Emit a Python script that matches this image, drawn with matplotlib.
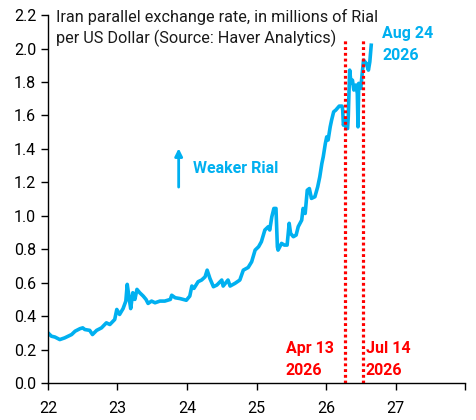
import matplotlib
matplotlib.use("Agg")
import matplotlib.pyplot as plt
from datetime import date

plt.rcParams['font.family'] = ['Roboto', 'DejaVu Sans']

# decimal years (22 = 2022) and rate in millions of Rial per USD
years = [22.00, 22.05, 22.10, 22.17, 22.24, 22.34, 22.39, 22.46, 22.50, 22.53,
         22.60, 22.64, 22.70, 22.77, 22.84, 22.89, 22.96, 22.99, 23.03, 23.08,
         23.12, 23.14, 23.17, 23.19, 23.22, 23.25, 23.28, 23.32, 23.37, 23.41,
         23.44, 23.49, 23.54, 23.61, 23.68, 23.76, 23.78, 23.83, 23.90, 23.99,
         24.04, 24.07, 24.10, 24.16, 24.21, 24.26, 24.29, 24.33, 24.38, 24.43,
         24.50, 24.52, 24.59, 24.62, 24.69, 24.76, 24.81, 24.88, 24.93, 24.98,
         25.03, 25.07, 25.12, 25.17, 25.19, 25.22, 25.25, 25.28, 25.30, 25.31,
         25.36, 25.40, 25.44, 25.47, 25.49, 25.53, 25.57, 25.60, 25.65, 25.67,
         25.70, 25.73, 25.76, 25.79, 25.84, 25.88, 25.91, 25.94, 25.96, 25.99,
         26.01, 26.03, 26.06, 26.08, 26.11, 26.14, 26.19, 26.23, 26.24, 26.25,
         26.27, 26.29, 26.31, 26.32, 26.34, 26.36, 26.38, 26.40, 26.43, 26.45,
         26.46, 26.47, 26.50, 26.52, 26.54, 26.56, 26.58, 26.61, 26.63, 26.65]
rate = [0.300, 0.280, 0.275, 0.260, 0.270, 0.290, 0.310, 0.325, 0.330, 0.320,
        0.315, 0.290, 0.315, 0.330, 0.360, 0.350, 0.380, 0.440, 0.410, 0.445,
        0.490, 0.590, 0.500, 0.445, 0.540, 0.500, 0.560, 0.540, 0.520, 0.500,
        0.476, 0.490, 0.480, 0.490, 0.490, 0.500, 0.525, 0.510, 0.505, 0.495,
        0.520, 0.580, 0.566, 0.606, 0.616, 0.635, 0.675, 0.625, 0.576, 0.586,
        0.616, 0.580, 0.616, 0.580, 0.596, 0.616, 0.675, 0.691, 0.725, 0.795,
        0.815, 0.845, 0.915, 0.935, 0.915, 0.994, 1.044, 1.044, 0.815, 0.795,
        0.835, 0.825, 0.825, 0.955, 0.895, 0.875, 0.885, 0.935, 0.974, 1.044,
        1.014, 1.153, 1.163, 1.104, 1.114, 1.173, 1.233, 1.313, 1.353, 1.432,
        1.472, 1.453, 1.532, 1.572, 1.622, 1.632, 1.656, 1.656, 1.632, 1.542,
        1.572, 1.522, 1.522, 1.592, 1.871, 1.792, 1.811, 1.752, 1.782, 1.732,
        1.532, 1.792, 1.762, 1.851, 1.931, 1.921, 1.911, 1.871, 1.921, 2.020]

x_ticks = [22, 23, 24, 25, 26, 27, 28]
x_tick_labels = ["22", "23", "24", "25", "26", "27", ""]
y_ticks = [0.0, 0.2, 0.4, 0.6, 0.8, 1.0, 1.2, 1.4, 1.6, 1.8, 2.0, 2.2]

event_dates = [date(2026, 4, 13), date(2026, 7, 14)]

def dec_year(d):
    start = date(d.year, 1, 1)
    n = (date(d.year + 1, 1, 1) - start).days
    return d.year - 2000 + (d - start).days / n

BLUE = "#00B0F0"
RED = "#FF0000"

fig = plt.figure(figsize=(4.76, 4.20), dpi=100)
ax = fig.add_axes([0.1008, 0.088, 0.8762, 0.876])

ax.plot(years, rate, color=BLUE, lw=2.6, solid_joinstyle='round')

for d in event_dates:
    xv = dec_year(d)
    ax.plot([xv, xv], [0, 2.05], color=RED, lw=2.3, linestyle=(0, (0.9, 0.9)))

ax.set_xlim(22, 28)
ax.set_ylim(0, 2.2)
ax.set_xticks(x_ticks)
ax.set_xticklabels(x_tick_labels)
ax.set_yticks(y_ticks)
ax.set_yticklabels([f"{v:.1f}" for v in y_ticks])
for s in ["top", "right"]:
    ax.spines[s].set_visible(False)
for s in ["left", "bottom"]:
    ax.spines[s].set_linewidth(1.0)
ax.tick_params(axis='both', direction='out', length=5, width=1.0,
               labelsize=11.5, colors='black')
ax.tick_params(axis='x', pad=8)

ax.text(22.11, 2.235, "Iran parallel exchange rate, in millions of Rial\nper US Dollar (Source: Haver Analytics)",
        fontsize=11.7, va='top', ha='left', linespacing=1.35, color='#1a1a1a')

ax.text(26.81, 2.135, "Aug 24\n2026", color=BLUE, fontsize=11.5,
        fontweight='bold', va='top', ha='left', linespacing=1.6)
ax.text(25.42, 0.25, "Apr 13\n2026", color=RED, fontsize=11.5,
        fontweight='bold', va='top', ha='left', linespacing=1.55)
ax.text(26.575, 0.25, "Jul 14\n2026", color=RED, fontsize=11.5,
        fontweight='bold', va='top', ha='left', linespacing=1.55)

ax.text(24.08, 1.285, "Weaker Rial", color=BLUE, fontsize=11.5,
        fontweight='bold', va='center', ha='left')
ax.annotate("", xy=(23.88, 1.42), xytext=(23.88, 1.155),
            arrowprops=dict(arrowstyle='-|>', color=BLUE, lw=2.0,
                            mutation_scale=11))

fig.savefig("out.png", dpi=100)
